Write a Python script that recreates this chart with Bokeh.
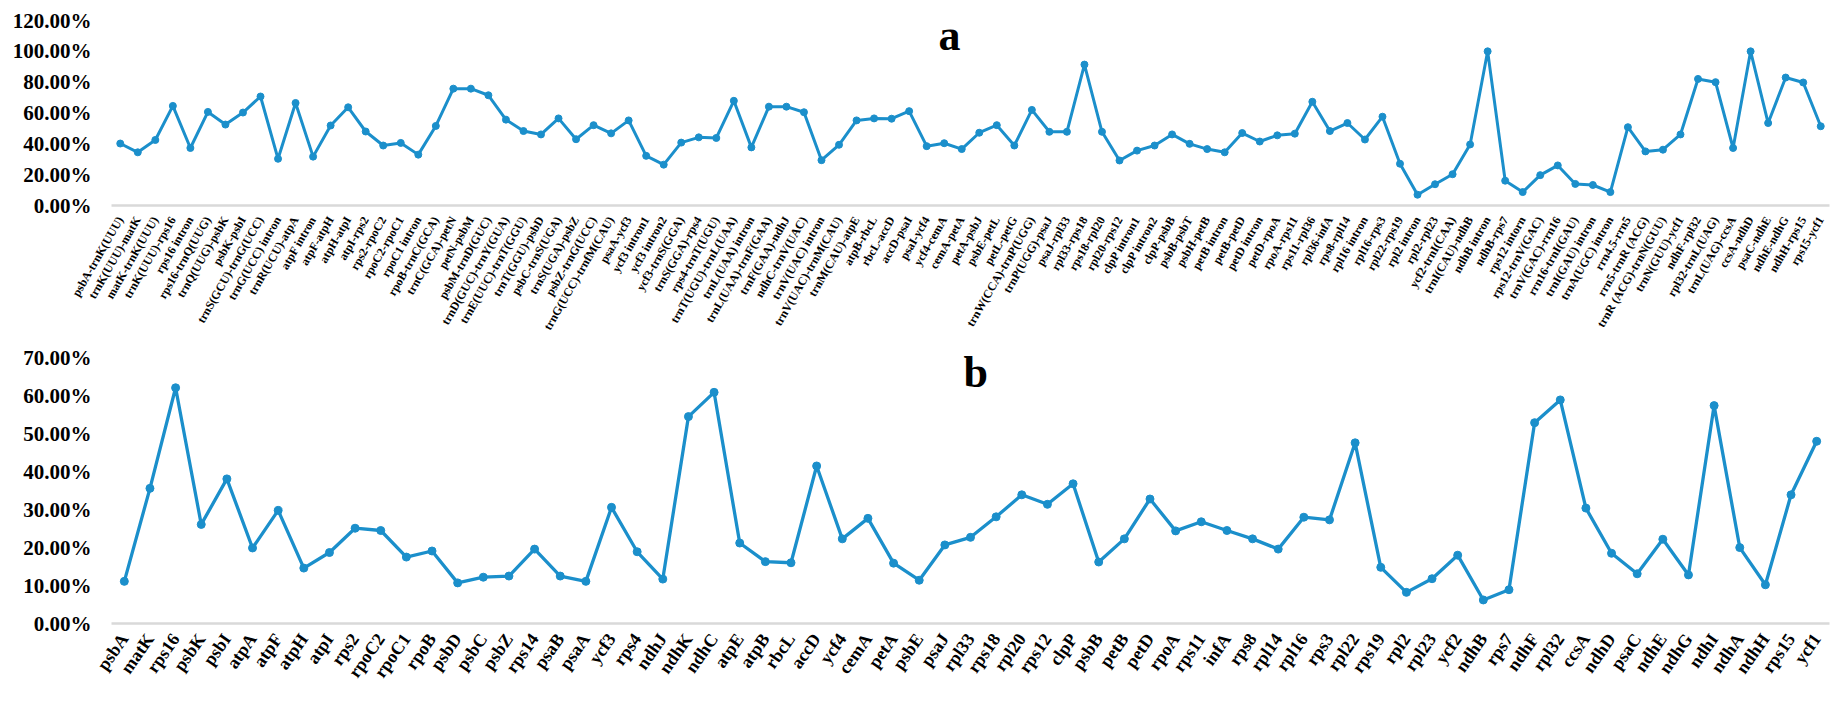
from bokeh.plotting import figure
from bokeh.layouts import column
from bokeh.models import Range1d, FactorRange, FixedTicker, PrintfTickFormatter, Label, ColumnDataSource
from bokeh.embed import file_html
from bokeh.resources import INLINE

regions_a = [
    "psbA-trnK(UUU)", "trnK(UUU)-matK", "matK-trnK(UUU)", "trnK(UUU)-rps16", "rps16 intron",
    "rps16-trnQ(UUG)", "trnQ(UUG)-psbK", "psbK-psbI", "trnS(GCU)-trnG(UCC)", "trnG(UCC) intron",
    "trnR(UCU)-atpA", "atpF intron", "atpF-atpH", "atpH-atpI", "atpI-rps2", "rps2-rpoC2",
    "rpoC2-rpoC1", "rpoC1 intron", "rpoB-trnC(GCA)", "trnC(GCA)-petN", "petN-psbM",
    "psbM-trnD(GUC)", "trnD(GUC)-trnY(GUA)", "trnE(UUC)-trnT(GGU)", "trnT(GGU)-psbD",
    "psbC-trnS(UGA)", "trnS(UGA)-psbZ", "psbZ-trnG(UCC)", "trnG(UCC)-trnfM(CAU)", "psaA-ycf3",
    "ycf3 intron1", "ycf3 intron2", "ycf3-trnS(GGA)", "trnS(GGA)-rps4", "rps4-trnT(UGU)",
    "trnT(UGU)-trnL(UAA)", "trnL(UAA) intron", "trnL(UAA)-trnF(GAA)", "trnF(GAA)-ndhJ",
    "ndhC-trnV(UAC)", "trnV(UAC) intron", "trnV(UAC)-trnM(CAU)", "trnM(CAU)-atpE", "atpB-rbcL",
    "rbcL-accD", "accD-psaI", "psaI-ycf4", "ycf4-cemA", "cemA-petA", "petA-psbJ", "psbE-petL",
    "petL-petG", "trnW(CCA)-trnP(UGG)", "trnP(UGG)-psaJ", "psaJ-rpl33", "rpl33-rps18",
    "rps18-rpl20", "rpl20-rps12", "clpP intron1", "clpP intron2", "clpP-psbB", "psbB-psbT",
    "psbH-petB", "petB intron", "petB-petD", "petD intron", "petD-rpoA", "rpoA-rps11",
    "rps11-rpl36", "rpl36-infA", "rps8-rpl14", "rpl16 intron", "rpl16-rps3", "rpl22-rps19",
    "rpl2 intron", "rpl2-rpl23", "ycf2-trnI(CAA)", "trnI(CAU)-ndhB", "ndhB intron", "ndhB-rps7",
    "rps12 intorn", "rps12-trnV(GAC)", "trnV(GAC)-rrn16", "rrn16-trnI(GAU)", "trnI(GAU) intron",
    "trnA(UGC) intron", "rrn4.5-rrn5", "rrn5-trnR (ACG)", "trnR (ACG)-trnN(GUU)",
    "trnN(GUU)-ycf1", "ndhF-rpl32", "rpl32-trnL(UAG)", "trnL(UAG)-ccsA", "ccsA-ndhD",
    "psaC-ndhE", "ndhE-ndhG", "ndhH-rps15", "rps15-ycf1",
]
values_a = [
    40.2, 34.5, 42.5, 64.6, 37.3, 60.7, 52.5, 60.3, 70.7, 30.3,
    66.5, 31.7, 51.9, 63.7, 48.0, 38.9, 40.6, 33.0, 51.6, 75.8,
    75.8, 71.5, 55.7, 48.3, 46.1, 56.5, 43.0, 52.1, 46.8, 55.2,
    32.2, 26.5, 40.8, 44.2, 43.8, 67.9, 37.7, 64.1, 64.1, 60.5,
    29.4, 39.4, 55.2, 56.5, 56.3, 61.2, 38.5, 40.4, 36.6, 47.2,
    52.1, 38.9, 62.0, 47.8, 47.8, 91.4, 47.8, 29.2, 35.6, 38.9,
    46.1, 40.0, 36.6, 34.5, 47.0, 41.5, 45.5, 46.6, 67.3, 48.3,
    53.5, 42.8, 57.6, 27.1, 7.0, 13.8, 20.3, 39.6, 100.0, 16.1,
    8.7, 19.7, 26.0, 14.0, 13.3, 8.7, 50.8, 35.1, 36.2, 46.1,
    82.1, 80.0, 37.3, 100.0, 53.5, 83.0, 79.8, 51.4,
]
ticks_a = [0, 20, 40, 60, 80, 100, 120]

genes_b = [
    "psbA", "matK", "rps16", "psbK", "psbI", "atpA", "atpF", "atpH", "atpI", "rps2",
    "rpoC2", "rpoC1", "rpoB", "psbD", "psbC", "psbZ", "rps14", "psaB", "psaA", "ycf3",
    "rps4", "ndhJ", "ndhK", "ndhC", "atpE", "atpB", "rbcL", "accD", "ycf4", "cemA",
    "petA", "psbE", "psaJ", "rpl33", "rps18", "rpl20", "rps12", "clpP", "psbB", "petB",
    "petD", "rpoA", "rps11", "infA", "rps8", "rpl14", "rpl16", "rps3", "rpl22", "rps19",
    "rpl2", "rpl23", "ycf2", "ndhB", "rps7", "ndhF", "rpl32", "ccsA", "ndhD", "psaC",
    "ndhE", "ndhG", "ndhI", "ndhA", "ndhH", "rps15", "ycf1",
]
values_b = [
    11.1, 35.6, 62.1, 26.1, 38.1, 19.9, 29.8, 14.6, 18.7, 25.1,
    24.5, 17.5, 19.1, 10.7, 12.2, 12.5, 19.6, 12.5, 11.1, 30.6,
    18.9, 11.7, 54.5, 60.9, 21.2, 16.3, 16.0, 41.5, 22.3, 27.7,
    15.9, 11.4, 20.7, 22.7, 28.1, 33.9, 31.4, 36.8, 16.2, 22.3,
    32.8, 24.4, 26.8, 24.5, 22.3, 19.6, 28.0, 27.3, 47.6, 14.8,
    8.2, 11.8, 18.0, 6.2, 8.9, 52.9, 58.9, 30.4, 18.5, 13.1,
    22.2, 12.8, 57.4, 20.0, 10.2, 33.9, 48.0,
]
ticks_b = [0, 10, 20, 30, 40, 50, 60, 70]

BLUE = "#1b8fcb"
GRAY = "#d9d9d9"
FONT = "Liberation Serif"


def style(p, ticks, label_size, xlabel_size, angle, standoff):
    p.xgrid.visible = False
    p.ygrid.visible = False
    p.outline_line_color = None
    p.yaxis.ticker = FixedTicker(ticks=ticks)
    p.yaxis.formatter = PrintfTickFormatter(format="%.2f%%")
    p.yaxis.axis_line_color = None
    p.yaxis.major_tick_line_color = None
    p.yaxis.minor_tick_line_color = None
    p.yaxis.major_label_text_font = FONT
    p.yaxis.major_label_text_font_style = "bold"
    p.yaxis.major_label_text_font_size = label_size
    p.yaxis.major_label_text_color = "black"
    p.yaxis.major_label_standoff = 14
    p.xaxis.axis_line_color = GRAY
    p.xaxis.axis_line_width = 2.5
    p.xaxis.major_tick_line_color = None
    p.xaxis.minor_tick_line_color = None
    p.xaxis.major_label_orientation = angle
    p.xaxis.major_label_text_font = FONT
    p.xaxis.major_label_text_font_style = "bold"
    p.xaxis.major_label_text_font_size = xlabel_size
    p.xaxis.major_label_text_color = "black"
    p.xaxis.major_label_standoff = standoff


pa = figure(width=1831, height=338, x_range=FactorRange(*regions_a, range_padding=0),
            y_range=Range1d(0, 120), output_backend="svg", toolbar_location=None,
            min_border_left=111, min_border_right=0, min_border_top=20, min_border_bottom=130)
src_a = ColumnDataSource(dict(x=regions_a, y=values_a))
pa.line("x", "y", source=src_a, line_color=BLUE, line_width=3)
pa.scatter("x", "y", source=src_a, size=7, color=BLUE)
style(pa, ticks_a, "21px", "12px", 1.047, 6)
pa.add_layout(Label(x=47.8, y=110.0, text="a", text_align="center", text_baseline="alphabetic",
                    text_font=FONT, text_font_style="bold", text_font_size="44px", text_color="black"))

pb = figure(width=1831, height=353, x_range=FactorRange(*genes_b, range_padding=0),
            y_range=Range1d(0, 73.5), output_backend="svg", toolbar_location=None,
            min_border_left=104, min_border_right=2, min_border_top=6, min_border_bottom=68)
src_b = ColumnDataSource(dict(x=genes_b, y=values_b))
pb.line("x", "y", source=src_b, line_color=BLUE, line_width=3.3)
pb.scatter("x", "y", source=src_b, size=8, color=BLUE)
style(pb, ticks_b, "21px", "18px", 0.96, 6)
pb.add_layout(Label(x=33.7, y=66.0, text="b", text_align="center", text_baseline="alphabetic",
                    text_font=FONT, text_font_style="bold", text_font_size="44px", text_color="black"))

layout = column(pa, pb, spacing=0)
open("out.html", "w").write(file_html(layout, INLINE))
